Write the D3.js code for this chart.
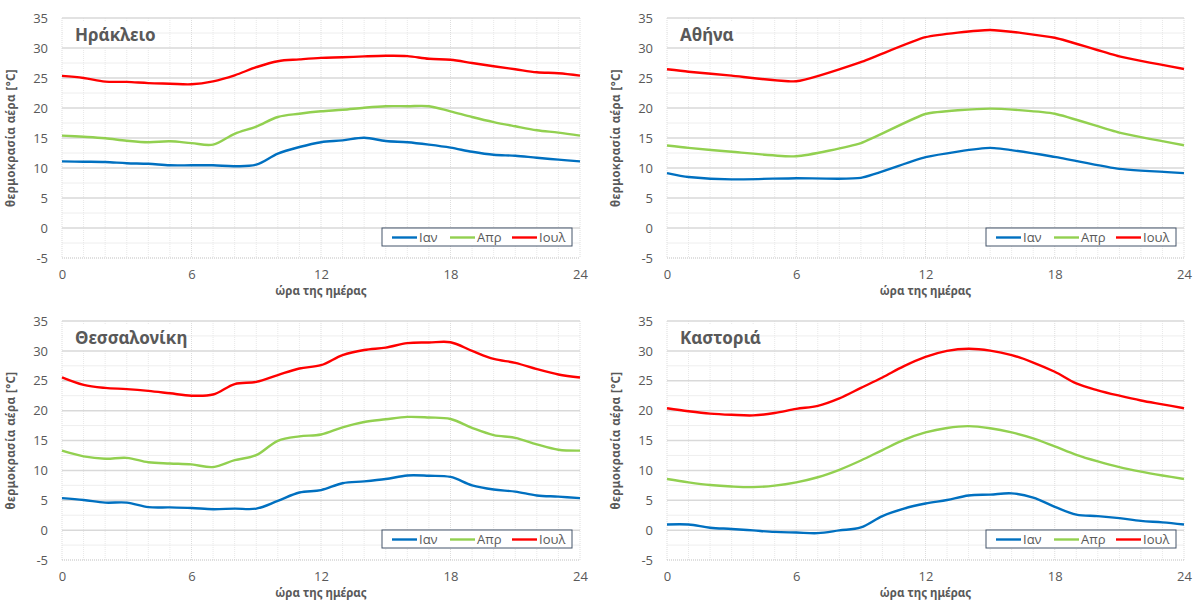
<!DOCTYPE html>
<html><head><meta charset="utf-8">
<script src="https://cdn.jsdelivr.net/npm/d3@7"></script>
<style>
body{margin:0;background:#fff;}
svg{display:block;font-family:"Noto Sans","Open Sans",sans-serif;}
</style></head><body>
<svg id="c" width="1199" height="602"></svg>
<script>
// ---- data ----
const seriesNames = ["Ιαν", "Απρ", "Ιουλ"];
const seriesColors = ["#0070c0", "#92d050", "#ff0000"];
const xTicks = [0, 6, 12, 18, 24];
const yTicks = [-5, 0, 5, 10, 15, 20, 25, 30, 35];
const hours = [0,1,2,3,4,5,6,7,8,9,10,11,12,13,14,15,16,17,18,19,20,21,22,23,24];
const hoursAthens = [0,1,3,6,9,12,15,18,21,24];

const herJan = [11.1,11.05,11.0,10.8,10.7,10.45,10.45,10.45,10.3,10.55,12.4,13.5,14.3,14.6,15.05,14.5,14.3,13.9,13.4,12.7,12.2,12.05,11.7,11.4,11.1];
const herApr = [15.4,15.2,14.95,14.55,14.3,14.45,14.15,13.9,15.7,16.9,18.5,19.05,19.45,19.7,20.05,20.3,20.3,20.3,19.45,18.5,17.65,16.95,16.3,15.9,15.4];
const herJul = [25.35,25.0,24.4,24.35,24.15,24.05,23.95,24.45,25.45,26.8,27.8,28.1,28.35,28.45,28.6,28.7,28.65,28.2,28.05,27.5,26.95,26.45,25.95,25.8,25.4];

const athJan = [9.15,8.5,8.1,8.3,8.35,11.8,13.35,11.85,9.85,9.15];
const athApr = [13.75,13.35,12.7,11.95,14.15,19.0,19.9,19.05,15.9,13.8];
const athJul = [26.45,26.05,25.4,24.45,27.65,31.8,33.0,31.7,28.6,26.5];

const theJan = [5.35,5.05,4.6,4.6,3.85,3.8,3.7,3.5,3.6,3.6,4.9,6.3,6.7,7.85,8.15,8.55,9.15,9.1,8.9,7.5,6.8,6.45,5.8,5.6,5.35];
const theApr = [13.3,12.35,11.95,12.1,11.35,11.15,11.0,10.55,11.7,12.55,14.95,15.7,16.0,17.2,18.1,18.55,18.95,18.85,18.6,17.1,15.9,15.45,14.35,13.45,13.3];
const theJul = [25.55,24.3,23.8,23.6,23.3,22.9,22.5,22.7,24.45,24.8,25.95,27.05,27.6,29.3,30.15,30.55,31.3,31.4,31.45,30.0,28.65,28.0,26.95,26.05,25.55];

const kasJan = [0.95,0.95,0.4,0.2,-0.05,-0.3,-0.4,-0.5,-0.05,0.45,2.35,3.6,4.45,5.05,5.8,5.95,6.15,5.45,3.9,2.6,2.35,2.0,1.55,1.3,0.95];
const kasApr = [8.55,8.0,7.55,7.3,7.2,7.45,8.0,8.85,10.1,11.65,13.4,15.1,16.35,17.1,17.4,17.05,16.35,15.35,14.0,12.6,11.5,10.55,9.8,9.15,8.55];
const kasJul = [20.4,19.9,19.5,19.3,19.2,19.6,20.3,20.8,22.05,23.8,25.55,27.45,29.0,30.0,30.35,30.05,29.3,28.05,26.5,24.55,23.4,22.5,21.7,21.05,20.4];

const cityNames = ["Ηράκλειο", "Αθήνα", "Θεσσαλονίκη", "Καστοριά"];
const yLabel = "θερμοκρασία αέρα [°C]";
const xLabel = "ώρα της ημέρας";

// ---- layout ----
const panels = [
  {name: cityNames[0], x: hours, s: [herJan, herApr, herJul], l: 62, r: 580, t: 18, b: 258, titleW: 91, sparse: false},
  {name: cityNames[1], x: hoursAthens, s: [athJan, athApr, athJul], l: 667, r: 1184, t: 18, b: 258, titleW: 68, sparse: true},
  {name: cityNames[2], x: hours, s: [theJan, theApr, theJul], l: 62, r: 580, t: 321, b: 560, titleW: 121, sparse: false},
  {name: cityNames[3], x: hours, s: [kasJan, kasApr, kasJul], l: 667, r: 1184, t: 321, b: 560, titleW: 92, sparse: false}
];

const svg = d3.select("#c");
const textCol = "#595959";

panels.forEach(p => {
  const g = svg.append("g");
  const x = d3.scaleLinear().domain([0, 24]).range([p.l, p.r]);
  const y = d3.scaleLinear().domain([-5, 35]).range([p.b, p.t]);

  // minor horizontal grid
  g.selectAll(".hmin").data(d3.range(-2.5, 35, 5)).join("line")
    .attr("x1", p.l).attr("x2", p.r).attr("y1", d => y(d)).attr("y2", d => y(d))
    .attr("stroke", "#eeeeee").attr("stroke-width", 1);
  // minor vertical grid (hourly)
  g.selectAll(".vmin").data(hours.filter(h => h % 6 !== 0)).join("line")
    .attr("x1", d => x(d)).attr("x2", d => x(d)).attr("y1", p.t).attr("y2", p.b)
    .attr("stroke", "#e8e8e8").attr("stroke-width", 1).attr("stroke-dasharray", "1,1");
  // major vertical grid
  g.selectAll(".vmaj").data(xTicks).join("line")
    .attr("x1", d => x(d)).attr("x2", d => x(d)).attr("y1", p.t).attr("y2", p.b)
    .attr("stroke", "#dddddd").attr("stroke-width", 1).attr("stroke-dasharray", "1,1");
  // major horizontal grid
  g.selectAll(".hmaj").data(yTicks.filter(v => v > -5)).join("line")
    .attr("x1", p.l).attr("x2", p.r).attr("y1", d => y(d)).attr("y2", d => y(d))
    .attr("stroke", "#d9d9d9").attr("stroke-width", 1.5);
  // bottom axis dotted
  g.append("line").attr("x1", p.l).attr("x2", p.r).attr("y1", p.b).attr("y2", p.b)
    .attr("stroke", "#bfbfbf").attr("stroke-width", 1.2).attr("stroke-dasharray", "1,1");

  // axes via d3
  const ya = d3.axisLeft(y).tickValues(yTicks).tickSize(0).tickPadding(14).tickFormat(d => String(d));
  const yg = g.append("g").attr("transform", `translate(${p.l},0)`).call(ya);
  yg.select(".domain").remove();
  yg.selectAll("text").attr("fill", textCol).style("font-size", "13px")
    .style("font-family", "'Open Sans',sans-serif");
  const xa = d3.axisBottom(x).tickValues(xTicks).tickSize(0).tickPadding(12).tickFormat(d => String(d));
  const xg = g.append("g").attr("transform", `translate(0,${p.b})`).call(xa);
  xg.select(".domain").remove();
  xg.selectAll("text").attr("fill", textCol).style("font-size", "13px")
    .style("font-family", "'Open Sans',sans-serif");

  // title box
  g.append("rect").attr("x", p.l + 1).attr("y", p.t + 3).attr("width", p.titleW).attr("height", 26).attr("fill", "#fff");
  g.append("text").attr("x", p.l + 13).attr("y", p.t + 23).text(p.name)
    .attr("fill", textCol).style("font-size", "17px").style("font-weight", "bold");

  // lines
  const curve = p.sparse ? d3.curveCardinal.tension(0.5) : d3.curveCatmullRom.alpha(0.5);
  const line = d3.line().x((d, i) => x(p.x[i])).y(d => y(d)).curve(curve);
  p.s.forEach((vals, k) => {
    g.append("path").datum(vals).attr("d", line).attr("fill", "none")
      .attr("stroke", seriesColors[k]).attr("stroke-width", 2.4)
      .attr("stroke-linejoin", "round");
  });

  // axis titles
  const cy = (p.t + p.b) / 2;
  g.append("text").attr("transform", `translate(${p.l - 47},${cy}) rotate(-90)`)
    .attr("text-anchor", "middle").text(yLabel).attr("fill", textCol)
    .style("font-size", "11.5px").style("font-weight", "bold").style("letter-spacing", "0.4px");
  g.append("text").attr("x", (p.l + p.r) / 2).attr("y", p.b + 37)
    .attr("text-anchor", "middle").text(xLabel).attr("fill", textCol)
    .style("font-size", "11.5px").style("font-weight", "bold");

  // legend
  const lx = p.r - 198, ly = p.b - 30;
  const lg = g.append("g").attr("transform", `translate(${lx},${ly})`);
  lg.append("rect").attr("width", 190).attr("height", 18).attr("fill", "#fff")
    .attr("stroke", "#44546a").attr("stroke-width", 1);
  const offs = [10, 68, 130];
  seriesNames.forEach((n, k) => {
    lg.append("line").attr("x1", offs[k]).attr("x2", offs[k] + 25).attr("y1", 9.5).attr("y2", 9.5)
      .attr("stroke", seriesColors[k]).attr("stroke-width", 2.4);
    lg.append("text").attr("x", offs[k] + 27).attr("y", 14).text(n).attr("fill", textCol)
      .style("font-size", "13px").style("font-family", "'Open Sans',sans-serif");
  });
});
</script>
</body></html>
